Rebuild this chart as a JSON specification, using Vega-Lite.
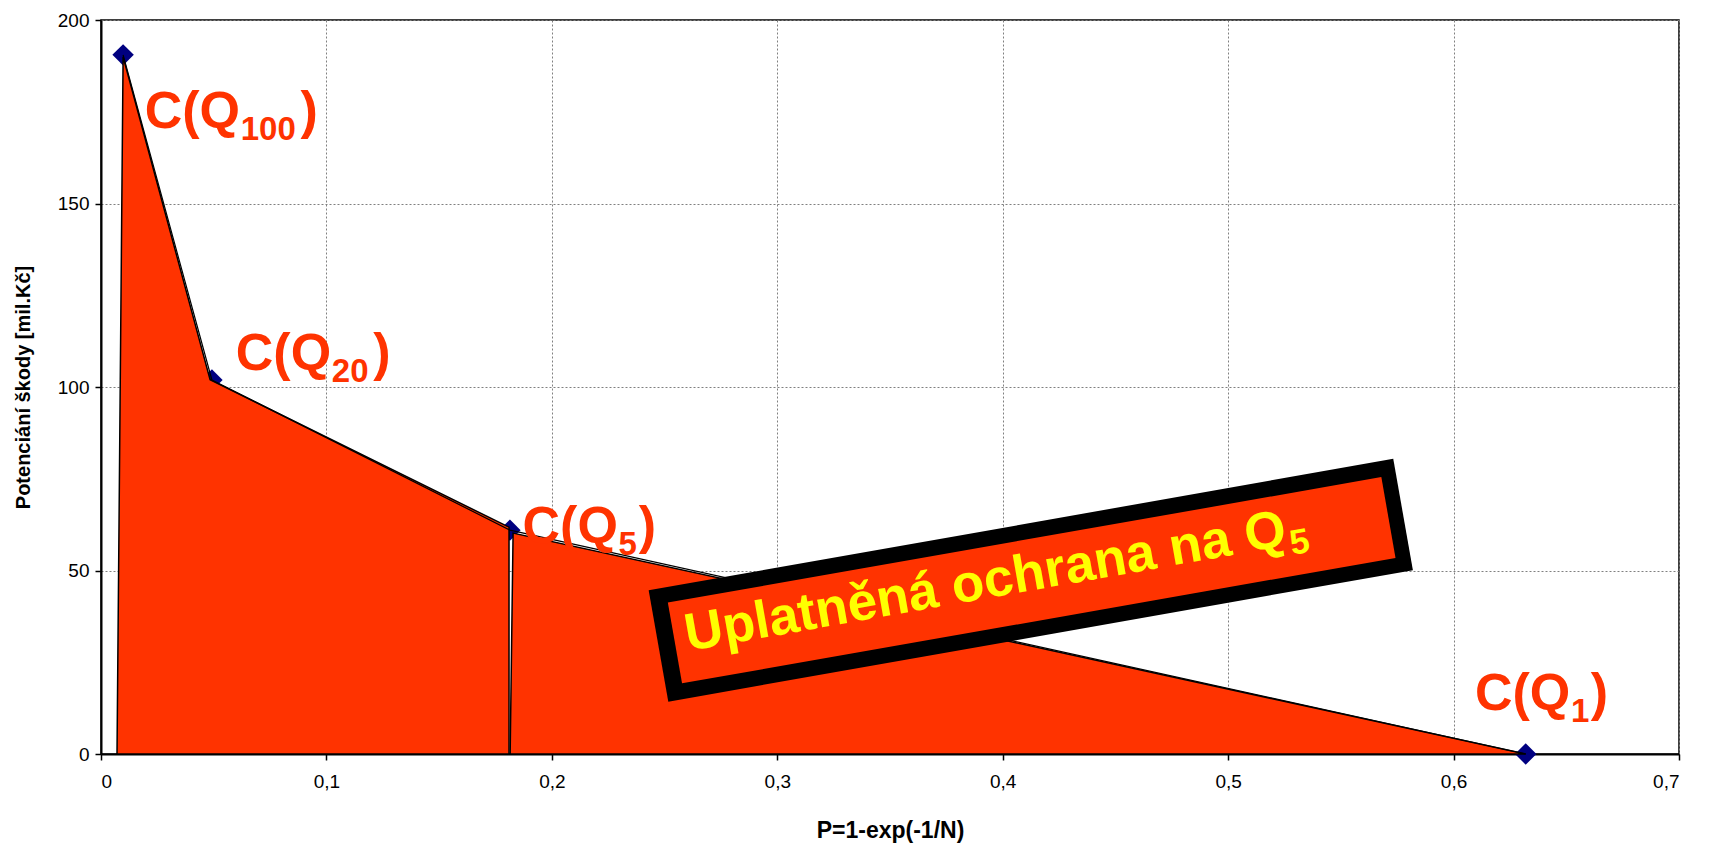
{
  "$schema": "https://vega.github.io/schema/vega-lite/v6.json",
  "width": 1578,
  "height": 734,
  "autosize": {"type": "none"},
  "padding": {"left": 101, "top": 20, "right": 30, "bottom": 89},
  "background": "white",
  "config": {
    "view": {"stroke": "black", "strokeWidth": 1.5},
    "axis": {
      "domainColor": "black", "domainWidth": 2,
      "tickColor": "black", "tickWidth": 1.5, "tickSize": 6,
      "grid": true, "gridColor": "#808080", "gridDash": [2, 2], "gridWidth": 1,
      "labelFont": "Liberation Sans", "labelFontSize": 19, "labelColor": "black",
      "titleFont": "Liberation Sans", "titleFontWeight": "bold", "titleColor": "black"
    }
  },
  "datasets": {
    "pts": [{"p": 0.0098, "c": 190.5}, {"p": 0.0492, "c": 101.9}, {"p": 0.1814, "c": 61}, {"p": 0.632, "c": 0}],
    "areaA": [{"p": 0.0071, "c": 0}, {"p": 0.0098, "c": 190}, {"p": 0.0484, "c": 102}, {"p": 0.181, "c": 61.8}],
    "areaB": [{"p": 0.1815, "c": 0}, {"p": 0.1828, "c": 60.2}, {"p": 0.632, "c": 0}],
    "bannerOuter": [{"p": 0.2473, "c": 29.43}, {"p": 0.5776, "c": 65.26}],
    "bannerInner": [{"p": 0.2546, "c": 30.25}, {"p": 0.5711, "c": 64.44}],
    "bannerText": [{"p": 0.2604, "c": 28.07, "t": "Uplatněná ochrana na Q"}],
    "bannerSub": [{"p": 0.5283, "c": 54.2, "t": "5"}],
    "labels": [
      {"p": 0.0194, "c": 170.6, "pc": 0.0885, "sub": "100"},
      {"p": 0.0598, "c": 104.6, "pc": 0.1208, "sub": "20"},
      {"p": 0.187, "c": 57.5, "pc": 0.2386, "sub": "5"},
      {"p": 0.6095, "c": 12.0, "pc": 0.6608, "sub": "1"}
    ]
  },
  "encoding": {
    "x": {"field": "p", "type": "quantitative", "title": "P=1-exp(-1/N)",
      "scale": {"domain": [0, 0.7], "nice": false, "zero": false},
      "axis": {"values": [0, 0.1, 0.2, 0.3, 0.4, 0.5, 0.6, 0.7], "labelPadding": 12, "titleFontSize": 23, "titlePadding": 28,
        "labelExpr": "datum.value == 0 ? '0' : replace(format(datum.value, '.1f'), '.', ',')"}},
    "y": {"field": "c", "type": "quantitative", "title": "Potenciání škody [mil.Kč]",
      "scale": {"domain": [0, 200], "nice": false, "zero": false},
      "axis": {"values": [0, 50, 100, 150, 200], "labelPadding": 6, "titleFontSize": 20, "titlePadding": 24}}
  },
  "layer": [
    {"data": {"name": "pts"}, "mark": {"type": "point", "shape": "diamond", "filled": true, "color": "#000080", "size": 460, "opacity": 1}},
    {"data": {"name": "areaA"}, "mark": {"type": "area", "fill": "#FF3300", "stroke": "black", "strokeWidth": 1.5, "strokeJoin": "miter"}},
    {"data": {"name": "areaB"}, "mark": {"type": "area", "fill": "#FF3300", "stroke": "black", "strokeWidth": 1.5, "strokeJoin": "miter"}},
    {"data": {"name": "pts"}, "mark": {"type": "line", "color": "black", "strokeWidth": 1.2}},
    {"data": {"name": "bannerOuter"}, "mark": {"type": "line", "color": "black", "strokeWidth": 113, "strokeCap": "butt"}},
    {"data": {"name": "bannerInner"}, "mark": {"type": "line", "color": "#FF3300", "strokeWidth": 82, "strokeCap": "butt"}},
    {"data": {"name": "bannerText"}, "mark": {"type": "text", "font": "Liberation Sans", "fontWeight": "bold", "fontSize": 53, "color": "#FFFF00", "angle": -10, "align": "left", "baseline": "alphabetic"},
      "encoding": {"text": {"field": "t"}}},
    {"data": {"name": "bannerSub"}, "mark": {"type": "text", "font": "Liberation Sans", "fontWeight": "bold", "fontSize": 35, "color": "#FFFF00", "angle": -10, "align": "left", "baseline": "alphabetic"},
      "encoding": {"text": {"field": "t"}}},
    {"data": {"name": "labels"}, "mark": {"type": "text", "font": "Liberation Sans", "fontWeight": "bold", "fontSize": 52, "color": "#FF3300", "align": "left", "baseline": "alphabetic"},
      "encoding": {"text": {"value": "C(Q"}}},
    {"data": {"name": "labels"}, "mark": {"type": "text", "font": "Liberation Sans", "fontWeight": "bold", "fontSize": 33, "color": "#FF3300", "align": "left", "baseline": "alphabetic", "dx": 96, "dy": 12},
      "encoding": {"text": {"field": "sub"}}},
    {"data": {"name": "labels"}, "mark": {"type": "text", "font": "Liberation Sans", "fontWeight": "bold", "fontSize": 52, "color": "#FF3300", "align": "left", "baseline": "alphabetic"},
      "encoding": {"text": {"value": ")"}, "x": {"field": "pc", "type": "quantitative", "title": "P=1-exp(-1/N)"}}}
  ]
}
